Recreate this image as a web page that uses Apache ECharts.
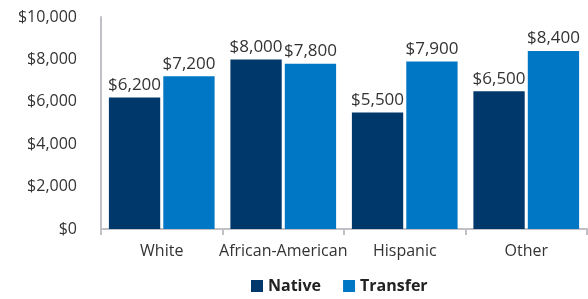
<!DOCTYPE html>
<html><head><meta charset="utf-8">
<script src="https://cdn.jsdelivr.net/npm/echarts@6/dist/echarts.min.js"></script>
<style>html,body{margin:0;padding:0;background:#fff}#c{width:588px;height:299px}</style>
</head><body><div id="c"></div>
<script>
const categories = ['White', 'African-American', 'Hispanic', 'Other'];
const nativeValues = [6200, 8000, 5500, 6500];
const transferValues = [7200, 7800, 7900, 8400];
const seriesNames = ['Native', 'Transfer'];
const yTicks = [0, 2000, 4000, 6000, 8000, 10000];

const FONT = '"Open Sans", "Noto Sans", sans-serif';
const fmt = v => '$' + v.toLocaleString('en-US');
const chart = echarts.init(document.getElementById('c'), null, {renderer: 'canvas'});
const labelCfg = {show: true, position: 'top', distance: 4, color: '#333', fontSize: 17, fontFamily: FONT, formatter: p => fmt(p.value)};
chart.setOption({
  animation: false,
  textStyle: {fontFamily: FONT},
  grid: {left: 101, right: 1, top: 17, bottom: 70},
  legend: {
    data: seriesNames, bottom: 0, left: 246, itemWidth: 12, itemHeight: 12, itemGap: 22,
    icon: 'rect',
    textStyle: {fontSize: 16, fontWeight: 'bold', color: '#222', fontFamily: FONT}
  },
  xAxis: {
    type: 'category', data: categories,
    axisLine: {lineStyle: {color: '#c0c0c6', width: 2}},
    axisTick: {show: true, length: 6, lineStyle: {color: '#c0c0c6', width: 2}},
    axisLabel: {color: '#333', fontSize: 16, margin: 14, interval: 0, fontFamily: FONT}
  },
  yAxis: {
    type: 'value', min: yTicks[0], max: yTicks[yTicks.length - 1], interval: 2000,
    axisLine: {show: true, lineStyle: {color: '#c0c0c6', width: 2}},
    axisTick: {show: false},
    splitLine: {show: false},
    axisLabel: {color: '#333', fontSize: 16, margin: 24, fontFamily: FONT, formatter: v => fmt(v)}
  },
  series: [
    {name: seriesNames[0], type: 'bar', data: nativeValues, itemStyle: {color: '#00386b'}, barGap: '6%', barCategoryGap: '13%', label: labelCfg},
    {name: seriesNames[1], type: 'bar', data: transferValues, itemStyle: {color: '#0077c5'}, label: labelCfg}
  ]
});
</script></body></html>
